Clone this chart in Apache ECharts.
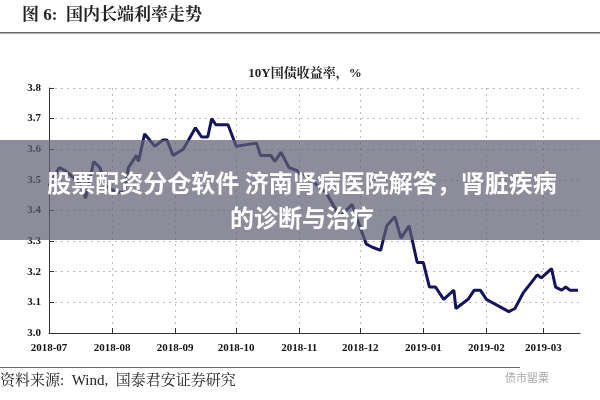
<!DOCTYPE html>
<html><head><meta charset="utf-8">
<script src="https://cdn.jsdelivr.net/npm/echarts@6/dist/echarts.min.js"></script>
<style>html,body{margin:0;background:#fff}#c{width:600px;height:400px}</style>
</head><body><div id="c"></div>
<script>
const dates = ['2018-07-01','2018-07-06','2018-07-09','2018-07-16','2018-07-19','2018-07-23','2018-07-26','2018-07-29','2018-08-03','2018-08-07','2018-08-09','2018-08-13','2018-08-14','2018-08-17','2018-08-22','2018-08-26','2018-08-28','2018-08-31','2018-09-05','2018-09-11','2018-09-14','2018-09-17','2018-09-19','2018-09-21','2018-09-27','2018-10-01','2018-10-11','2018-10-13','2018-10-18','2018-10-20','2018-10-23','2018-10-27','2018-10-31','2018-11-01','2018-11-03','2018-11-14','2018-11-21','2018-11-27','2018-11-29','2018-12-04','2018-12-07','2018-12-11','2018-12-14','2018-12-18','2018-12-21','2018-12-25','2018-12-29','2019-01-01','2019-01-04','2019-01-07','2019-01-11','2019-01-16','2019-01-17','2019-01-23','2019-01-26','2019-01-29','2019-02-01','2019-02-12','2019-02-15','2019-02-19','2019-02-26','2019-02-28','2019-03-05','2019-03-07','2019-03-10','2019-03-12','2019-03-14','2019-03-18'];
const yields = [3.48,3.54,3.53,3.49,3.44,3.56,3.54,3.48,3.46,3.46,3.54,3.58,3.56,3.65,3.61,3.63,3.63,3.58,3.60,3.67,3.64,3.64,3.70,3.68,3.68,3.61,3.62,3.58,3.58,3.56,3.59,3.54,3.53,3.52,3.52,3.46,3.38,3.42,3.38,3.29,3.28,3.27,3.35,3.38,3.31,3.35,3.23,3.23,3.15,3.15,3.11,3.14,3.08,3.11,3.14,3.14,3.11,3.07,3.08,3.13,3.19,3.18,3.21,3.15,3.14,3.15,3.14,3.14];
const yTicks = ['3.0','3.1','3.2','3.3','3.4','3.5','3.6','3.7','3.8'];
const startDay = '2018-07-01', endDay = '2019-03-19';

const days = [];
for (let d = new Date(startDay+'T00:00:00Z'); d <= new Date(endDay+'T00:00:00Z'); d.setUTCDate(d.getUTCDate()+1)) days.push(d.toISOString().slice(0,10));
const isMonth = (i) => days[i] && days[i].slice(8) === '01';
const data = dates.map((d,i)=>[d, yields[i]]);
const serif = '"Liberation Serif","Noto Serif CJK SC","Noto Sans CJK SC",serif';

const chart = echarts.init(document.getElementById('c'));
chart.setOption({
  animation:false,
  grid:{left:49,right:20,top:88,bottom:67},
  title:{text:'10Y国债收益率，%',left:300,top:62,textAlign:'center',textStyle:{fontFamily:serif,fontSize:13,fontWeight:'bold',color:'#222'}},
  xAxis:{type:'category',data:days,boundaryGap:false,
    axisLine:{lineStyle:{color:'#333'}},
    axisTick:{interval:isMonth,inside:true,lineStyle:{color:'#333'}},
    axisLabel:{interval:isMonth,formatter:v=>v.slice(0,7),color:'#111',fontFamily:serif,fontWeight:'bold',fontSize:11,margin:10},
    splitLine:{show:true,interval:isMonth,lineStyle:{type:[2,4],color:'#bbb'}}},
  yAxis:{type:'value',min:3.0,max:3.8,interval:0.1,
    axisLine:{show:true,lineStyle:{color:'#333'}},
    axisTick:{show:true,inside:true,lineStyle:{color:'#333'}},
    axisLabel:{formatter:(v)=>yTicks[Math.round((v-3)*10)],color:'#111',fontFamily:serif,fontWeight:'bold',fontSize:11},
    splitLine:{lineStyle:{type:[2,4],color:'#bbb'}}},
  series:[{type:'line',data:data,showSymbol:false,lineStyle:{color:'#14145e',width:3}}],
  graphic:[
    {type:'text',left:22,top:7,style:{text:'图 6:  国内长端利率走势',font:'bold 17px '+serif,fill:'#222'}},
    {type:'rect',shape:{x:0,y:32,width:600,height:1.5},style:{fill:'#666'}},
    {type:'rect',shape:{x:0,y:367,width:520,height:1},style:{fill:'#666'}},
    {type:'text',left:0,top:374,style:{text:'资料来源:  Wind,  国泰君安证券研究',font:'15px '+serif,fill:'#222'}},
    {type:'text',left:505,top:372,style:{text:'债市罂粟',font:'11px "Noto Sans CJK SC"',fill:'#aaa'}},
    {type:'rect',shape:{x:0,y:140,width:600,height:100},style:{fill:'rgba(95,95,115,0.72)'},z:100},
    {type:'text',x:302,y:183,z:101,style:{text:'股票配资分仓软件 济南肾病医院解答，肾脏疾病',font:'bold 24px "Noto Sans CJK SC"',fill:'#fff',align:'center',verticalAlign:'middle'}},
    {type:'text',x:302,y:218,z:101,style:{text:'的诊断与治疗',font:'bold 24px "Noto Sans CJK SC"',fill:'#fff',align:'center',verticalAlign:'middle'}}
  ]
});
</script></body></html>
